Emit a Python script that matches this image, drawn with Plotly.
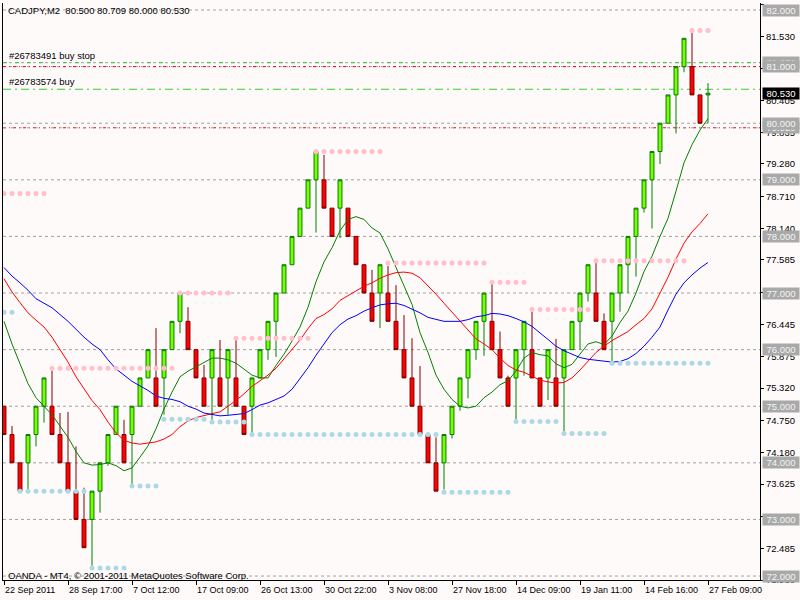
import plotly.graph_objects as go

symbol_text = "CADJPY,M2  80.500 80.709 80.000 80.530"
footer_text = "OANDA - MT4, © 2001-2011 MetaQuotes Software Corp."

# renko-like bars, one per column
opens = [75, 74.5, 74, 74, 74.5, 75, 75, 74.5, 74, 73.5,
         73, 73, 73.5, 74, 74.5, 74.5, 74.5, 75, 75.5, 75.5,
         75.5, 76, 76.5, 76.5, 76, 75.5, 75.5, 75.5, 75.5, 75.5,
         75, 75, 75.5, 76, 76.5, 77, 77.5, 78, 78.5, 79,
         79, 78.5, 78.5, 78.5, 78, 77.5, 77, 77, 77, 76.5,
         76, 75.5, 75, 74.5, 74, 74, 74.5, 75, 75.5, 76,
         76.5, 76.5, 76, 75.5, 75.5, 76, 76, 75.5, 75.5, 75.5,
         75.5, 76, 76.5, 77, 77, 76.5, 76.5, 77, 77.5, 78,
         78.5, 79, 79.5, 80, 80.5, 81, 81, 80.5, 80.5]
highs = [75, 74.65, 74, 74.5, 75, 75.5, 75.63, 74.88, 74.9, 74.29,
         73.56, 73.5, 74, 74.5, 75, 74.76, 75, 75.5, 76, 76.38,
         76, 76.5, 77, 76.75, 76, 75.73, 76, 76.17, 76, 76.17,
         75, 75.5, 76, 76.5, 77, 77.5, 78, 78.5, 79, 79.5,
         79.44, 78.5, 79, 78.5, 78, 77.5, 77.41, 77.5, 77.48, 77.14,
         76.61, 76.2, 75.71, 74.5, 74.45, 74.5, 75, 75.5, 76, 76.5,
         77, 77.17, 76.32, 75.54, 76, 76.5, 76.67, 75.5, 76, 76.19,
         76, 76.5, 77, 77.5, 77.55, 76.64, 77, 77.5, 78, 78.5,
         79, 79.5, 80, 80.5, 81, 81.5, 81.6, 80.5, 80.709]
lows = [74.5, 74, 73.5, 73.53, 74.29, 74.71, 74.5, 74, 73.5, 73,
        72.5, 72.14, 73.12, 73.95, 74.5, 74, 73.62, 75, 75.5, 75,
        74.85, 76, 76.29, 76, 75.5, 75, 74.76, 75, 74.85, 75,
        74.5, 74.52, 75.5, 75.82, 75.87, 77, 77.5, 78, 78.5, 78.07,
        78.5, 78, 77.97, 78, 77.5, 77, 76.5, 76.38, 76.5, 76,
        75.5, 75, 74.5, 74, 73.5, 73.53, 74.43, 74.92, 75.14, 75.82,
        75.89, 76, 75.5, 75, 74.77, 75.54, 75.5, 75, 75.11, 75,
        74.55, 76, 76, 76.85, 76.5, 76, 75.79, 76.67, 77, 77.29,
        78.42, 78.14, 79.28, 80, 79.82, 80.9, 80.5, 80, 80.0]
closes = [74.5, 74, 73.5, 74.5, 75, 75.5, 74.5, 74, 73.5, 73,
          72.5, 73.5, 74, 74.5, 75, 74, 75, 75.5, 76, 75,
          76, 76.5, 77, 76, 75.5, 75, 76, 75, 76, 75,
          74.5, 75.5, 76, 76.5, 77, 77.5, 78, 78.5, 79, 79.5,
          78.5, 78, 79, 78, 77.5, 77, 76.5, 77.5, 76.5, 76,
          75.5, 75, 74.5, 74, 73.5, 74.5, 75, 75.5, 76, 76.5,
          77, 76, 75.5, 75, 76, 76.5, 75.5, 75, 76, 75,
          76, 76.5, 77, 77.5, 76.5, 76, 77, 77.5, 78, 78.5,
          79, 79.5, 80, 80.5, 81, 81.5, 80.5, 80, 80.53]
bars = list(range(len(opens)))

# moving averages (fast green, medium red, slow blue)
ma_fast = [76.5, 76.1, 75.75, 75.4, 75.15, 75.0, 74.85, 74.65, 74.45, 74.2,
           74.0, 73.96, 73.97, 74.0, 73.95, 73.86, 73.91, 74.1, 74.3, 74.6,
           74.95, 75.25, 75.52, 75.62, 75.7, 75.78, 75.85, 75.85, 75.82, 75.76,
           75.66, 75.55, 75.5, 75.5, 75.72, 75.92, 76.15, 76.4, 76.75, 77.2,
           77.55, 77.8, 78.1, 78.3, 78.35, 78.3, 78.15, 78.06, 77.78, 77.45,
           77.1, 76.8, 76.3, 75.95, 75.55, 75.3, 75.12, 75.0, 74.97, 75.0,
           75.15, 75.25, 75.38, 75.45, 75.62, 75.85, 75.95, 75.91, 75.89, 75.75,
           75.68, 75.74, 75.92, 76.1, 76.14, 76.09, 76.24, 76.48, 76.68, 77.0,
           77.38, 77.65, 78.0, 78.32, 78.8, 79.3, 79.62, 79.88, 80.08]
ma_mid = [77.25, 77.02, 76.83, 76.65, 76.52, 76.4, 76.22, 76.0, 75.78, 75.52,
          75.3, 75.1, 74.94, 74.72, 74.53, 74.4, 74.35, 74.33, 74.35, 74.37,
          74.42, 74.5, 74.64, 74.74, 74.8, 74.84, 74.87, 74.9, 75.0, 75.1,
          75.22, 75.35, 75.45, 75.55, 75.67, 75.83, 76.0, 76.17, 76.37, 76.55,
          76.62, 76.72, 76.87, 76.95, 77.04, 77.12, 77.18, 77.26, 77.32, 77.36,
          77.37, 77.35, 77.27, 77.13, 76.98, 76.82, 76.66, 76.5, 76.35, 76.19,
          76.1, 76.0, 75.85, 75.72, 75.64, 75.6, 75.53, 75.46, 75.43, 75.41,
          75.42, 75.5, 75.64, 75.8, 75.95, 76.06, 76.16, 76.24, 76.32, 76.44,
          76.55, 76.72, 77.0, 77.28, 77.6, 77.88, 78.08, 78.23, 78.4]
ma_slow = [77.45, 77.3, 77.18, 77.05, 76.9, 76.82, 76.74, 76.62, 76.5, 76.36,
           76.22, 76.1, 76.0, 75.82, 75.66, 75.55, 75.44, 75.36, 75.28, 75.18,
           75.14, 75.12, 75.08, 75.0, 74.95, 74.88, 74.85, 74.83, 74.84, 74.85,
           74.87, 74.94, 75.02, 75.06, 75.12, 75.18, 75.3, 75.49, 75.68, 75.9,
           76.1, 76.3, 76.44, 76.54, 76.6, 76.68, 76.74, 76.79, 76.81, 76.82,
           76.78, 76.72, 76.65, 76.57, 76.53, 76.5, 76.5, 76.5, 76.53, 76.58,
           76.6, 76.64, 76.63, 76.6, 76.55, 76.49, 76.41, 76.3, 76.18, 76.06,
           75.98, 75.92, 75.86, 75.83, 75.81, 75.79, 75.78, 75.79, 75.84, 75.93,
           76.06, 76.22, 76.4, 76.7, 76.98, 77.18, 77.32, 77.44, 77.54]

# dotted resistance / support levels: price, first bar, last bar
res_levels = [78.76, 75.67, 77.0, 76.2, 79.5, 77.53, 77.19, 76.71, 77.57, 81.64]
res_from = [0, 6, 22, 29, 39, 48, 61, 66, 74, 86]
res_to = [5, 21, 28, 38, 47, 60, 65, 73, 85, 88]
sup_levels = [76.66, 73.5, 72.14, 73.59, 74.77, 74.72, 74.5, 73.48, 74.73, 74.52, 75.76]
sup_from = [0, 2, 11, 16, 20, 26, 31, 55, 64, 70, 76]
sup_to = [1, 10, 15, 19, 25, 30, 54, 63, 69, 75, 88]

date_bars = [0, 8, 16, 24, 32, 40, 48, 56, 64, 72, 80, 88]
date_labels = ["22 Sep 2011", "28 Sep 17:00", "7 Oct 12:00", "17 Oct 09:00",
               "26 Oct 13:00", "30 Oct 22:00", "3 Nov 08:00", "27 Nov 18:00",
               "14 Dec 09:00", "19 Jan 11:00", "14 Feb 16:00", "27 Feb 09:00"]

price_ticks = [82.100, 81.530, 80.965, 80.405, 79.835, 79.280, 78.710, 78.140,
               77.585, 77.015, 76.445, 75.875, 75.320, 74.750, 74.180, 73.625,
               73.055, 72.485, 71.930]
grid_levels = [82, 81, 80, 79, 78, 77, 76, 75, 74, 73, 72]

buy_stop_price = 81.07
buy_stop_label = "#26783491 buy stop"
buy_price = 80.60
buy_label = "#26783574 buy"
stop_levels = [81.0, 79.92]
last_price = 80.53

BG = "#FFFAFA"
FONT = "Liberation Sans"

fig = go.Figure()

fig.add_trace(go.Candlestick(
    x=bars, open=opens, high=highs, low=lows, close=closes,
    increasing=dict(line=dict(color="#008000", width=1), fillcolor="#7CFC00"),
    decreasing=dict(line=dict(color="#800000", width=1), fillcolor="#FF0000"),
    whiskerwidth=0, showlegend=False, hoverinfo="skip",
))

for vals, col in [(ma_fast, "#008000"), (ma_mid, "#FF0000"), (ma_slow, "#0000FF")]:
    fig.add_trace(go.Scatter(x=bars, y=vals, mode="lines",
                             line=dict(color=col, width=1), showlegend=False,
                             hoverinfo="skip"))


def dots(levels, starts, ends):
    xs, ys = [], []
    for lv, a, b in zip(levels, starts, ends):
        for i in range(a, b + 1):
            xs.append(i)
            ys.append(lv)
    return xs, ys


rx, ry = dots(res_levels, res_from, res_to)
sx, sy = dots(sup_levels, sup_from, sup_to)
fig.add_trace(go.Scatter(x=rx, y=ry, mode="markers",
                         marker=dict(color="#FFC0CB", size=5), showlegend=False,
                         hoverinfo="skip"))
fig.add_trace(go.Scatter(x=sx, y=sy, mode="markers",
                         marker=dict(color="#ADD8E6", size=5), showlegend=False,
                         hoverinfo="skip"))


def hline(y, color, dash):
    fig.add_shape(type="line", xref="paper", x0=0, x1=1, yref="y", y0=y, y1=y,
                  line=dict(color=color, width=1, dash=dash), layer="below")


for lv in grid_levels:
    hline(lv, "#A0A0A0", "3px,3px")
hline(buy_stop_price, "#A0A0A0", "3px,3px")
hline(buy_stop_price, "#32CD32", "4px,8px")
hline(buy_price, "#32CD32", "8px,4px,2px,4px")
for lv in stop_levels:
    hline(lv, "#FF0000", "3px,3px,1px,3px")
hline(stop_levels[1], "#A0A0A0", "3px,5px")

small = dict(family=FONT, size=9, color="black")
texts = dict(family=FONT, size=9.5, color="black")

# price boxes on the right
box_levels = [buy_stop_price, stop_levels[1]] + grid_levels
for lv in box_levels:
    fig.add_annotation(xref="paper", x=1, xanchor="left", xshift=2, y=lv,
                       yanchor="middle", text=f"{lv:.3f}", showarrow=False,
                       bgcolor="#A9A9A9", borderpad=0, width=36, height=11,
                       font=dict(family=FONT, size=9.5, color="#F4F4F4"))
fig.add_annotation(xref="paper", x=1, xanchor="left", xshift=2, y=last_price,
                   yanchor="middle", text=f"{last_price:.3f}", showarrow=False,
                   bgcolor="#000000", borderpad=0, width=36, height=11,
                   font=dict(family=FONT, size=9.5, color="white"))

for b, lab in zip(date_bars, date_labels):
    fig.add_annotation(x=b, xanchor="left", xshift=-1, yref="paper", y=0,
                       yanchor="top", yshift=-3, text=lab, showarrow=False,
                       font=small)

fig.add_annotation(xref="paper", x=0, xanchor="left", xshift=3, y=grid_levels[0],
                   yanchor="middle", text=symbol_text, showarrow=False, font=texts)
fig.add_annotation(xref="paper", x=0, xanchor="left", xshift=3, y=grid_levels[-1],
                   yanchor="middle", yshift=1, text=footer_text, showarrow=False,
                   font=texts)
fig.add_annotation(xref="paper", x=0, xanchor="left", xshift=4, y=buy_stop_price,
                   yanchor="bottom", text=buy_stop_label, showarrow=False, font=texts)
fig.add_annotation(xref="paper", x=0, xanchor="left", xshift=4, y=buy_price,
                   yanchor="bottom", text=buy_label, showarrow=False, font=texts)

fig.update_layout(
    width=800, height=600,
    margin=dict(l=3, r=40, t=3, b=20),
    paper_bgcolor=BG, plot_bgcolor=BG,
    font=small,
    xaxis=dict(range=[-0.125, 94.5], showgrid=False, zeroline=False,
               rangeslider=dict(visible=False), tickvals=date_bars,
               ticktext=["" for _ in date_bars], ticks="outside", ticklen=4,
               tickcolor="black", showline=True, linecolor="black", linewidth=1),
    yaxis=dict(range=[71.93, 82.124], side="right", showgrid=False, zeroline=False,
               tickvals=price_ticks, ticktext=[f"{v:.3f}" for v in price_ticks],
               ticks="outside", ticklen=3, tickcolor="black", showline=True,
               linecolor="black", linewidth=1, mirror=True,
               tickfont=dict(family=FONT, size=9.5, color="black")),
    showlegend=False,
)

fig.write_html("out.html", config={"displayModeBar": False},
               post_script="document.body.style.margin='0';"
                           "document.body.style.background='" + BG + "';")
